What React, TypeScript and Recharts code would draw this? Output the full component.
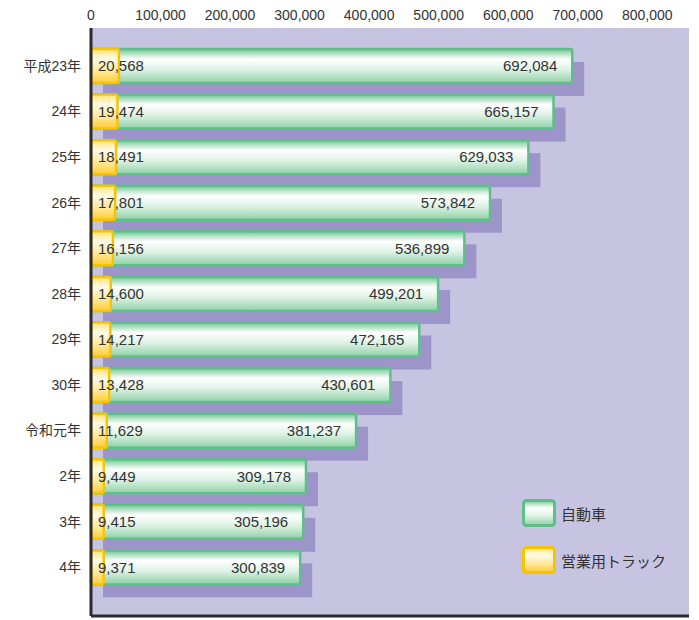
import { BarChart, Bar, XAxis, YAxis, CartesianGrid, LabelList } from 'recharts'

const years = ['平成23年', '24年', '25年', '26年', '27年', '28年', '29年', '30年', '令和元年', '2年', '3年', '4年']
const carValues = [692084, 665157, 629033, 573842, 536899, 499201, 472165, 430601, 381237, 309178, 305196, 300839]
const truckValues = [20568, 19474, 18491, 17801, 16156, 14600, 14217, 13428, 11629, 9449, 9415, 9371]
const xTicks = [0, 100000, 200000, 300000, 400000, 500000, 600000, 700000, 800000]
const legendItems = [
  { kind: 'car', label: '自動車' },
  { kind: 'truck', label: '営業用トラック' },
]

const data = years.map((year, i) => ({ year, car: carValues[i], truck: truckValues[i] }))

const FONT = '"Liberation Sans", Arial, "Noto Sans CJK JP", sans-serif'
const fmt = (v: number) => v.toLocaleString('en-US')

function CarShape(props: any) {
  const { x, y, width, height } = props
  return (
    <g>
      <rect x={x + 12} y={y + 13} width={width} height={height} fill="#9d95c9" />
      <rect x={x} y={y} width={width} height={height} rx={2} fill="url(#carGrad)" stroke="#5fbf88" strokeWidth={2.5} />
    </g>
  )
}

function TruckShape(props: any) {
  const { x, y, width, height } = props
  return <rect x={x} y={y} width={width} height={height} rx={2} fill="url(#truckGrad)" stroke="#f6c400" strokeWidth={2.5} />
}

function Gradients({ suffix = '' }: { suffix?: string }) {
  return (
    <defs>
      <linearGradient id={'carGrad' + suffix} x1="0" y1="0" x2="0" y2="1">
        <stop offset="0" stopColor="#6cc594" />
        <stop offset="0.14" stopColor="#b6e2c6" />
        <stop offset="0.3" stopColor="#ffffff" />
        <stop offset="0.6" stopColor="#dff2e5" />
        <stop offset="1" stopColor="#8ed0a6" />
      </linearGradient>
      <linearGradient id={'truckGrad' + suffix} x1="0" y1="0" x2="0" y2="1">
        <stop offset="0" stopColor="#ffe37a" />
        <stop offset="0.3" stopColor="#fffbe8" />
        <stop offset="0.65" stopColor="#ffe89a" />
        <stop offset="1" stopColor="#ffcc33" />
      </linearGradient>
    </defs>
  )
}

function LegendBox() {
  return (
    <div style={{ position: 'absolute', left: 514, top: 491, fontFamily: FONT, fontSize: 15, color: '#333' }}>
      {legendItems.map((it) => (
        <div key={it.kind} style={{ display: 'flex', alignItems: 'center', height: 29, marginBottom: 18 }}>
          <svg width={35} height={29} style={{ marginRight: 4 }}>
            <Gradients suffix="L" />
            <rect
              x={1.5}
              y={1.5}
              width={31}
              height={25}
              rx={3}
              fill={`url(#${it.kind}GradL)`}
              stroke={it.kind === 'car' ? '#5fbf88' : '#f6c400'}
              strokeWidth={3}
            />
          </svg>
          <span>{it.label}</span>
        </div>
      ))}
    </div>
  )
}

export default function App() {
  return (
    <div style={{ width: 691, height: 612, position: 'relative' }}>
      <BarChart
        width={691}
        height={612}
        data={data}
        layout="vertical"
        barGap={-34}
        margin={{ top: 0, right: 10, bottom: 2, left: 0 }}
      >
        <Gradients />
        <CartesianGrid fill="#c7c4e1" stroke="none" strokeOpacity={0} />
        <XAxis
          xAxisId="car"
          type="number"
          orientation="top"
          domain={[0, 860000]}
          ticks={xTicks}
          interval={0}
          tickFormatter={fmt}
          height={20}
          axisLine={false}
          tickLine={false}
          tickSize={0}
          tickMargin={8}
          allowDataOverflow
          tick={{ fill: '#333', fontSize: 14, fontFamily: FONT }}
        />
        <XAxis
          xAxisId="truck"
          type="number"
          orientation="bottom"
          domain={[0, 440000]}
          height={2}
          ticks={[0]}
          tick={false}
          tickLine={false}
          axisLine={{ stroke: '#2b2b2b', strokeWidth: 3 }}
        />
        <YAxis
          dataKey="year"
          type="category"
          width={83}
          padding={{ top: 15, bottom: 26 }}
          axisLine={{ stroke: '#2b2b2b', strokeWidth: 3 }}
          tickLine={false}
          tickSize={0}
          tickMargin={10}
          interval={0}
          tick={{ fill: '#333', fontSize: 14, fontFamily: FONT }}
        />
        <Bar
          xAxisId="car"
          dataKey="car"
          name="自動車"
          barSize={34}
          shape={<CarShape />}
          isAnimationActive={false}
        >
          <LabelList
            dataKey="car"
            position="insideRight"
            offset={15}
            formatter={(v: any) => fmt(Number(v))}
            style={{ fill: '#333', fontSize: 15, fontFamily: FONT }}
          />
        </Bar>
        <Bar
          xAxisId="truck"
          dataKey="truck"
          name="営業用トラック"
          barSize={34}
          shape={<TruckShape />}
          isAnimationActive={false}
        >
          <LabelList
            dataKey="truck"
            position="insideLeft"
            offset={7}
            formatter={(v: any) => fmt(Number(v))}
            style={{ fill: '#333', fontSize: 15, fontFamily: FONT, textAnchor: 'start' }}
          />
        </Bar>
      </BarChart>
      <LegendBox />
    </div>
  )
}
